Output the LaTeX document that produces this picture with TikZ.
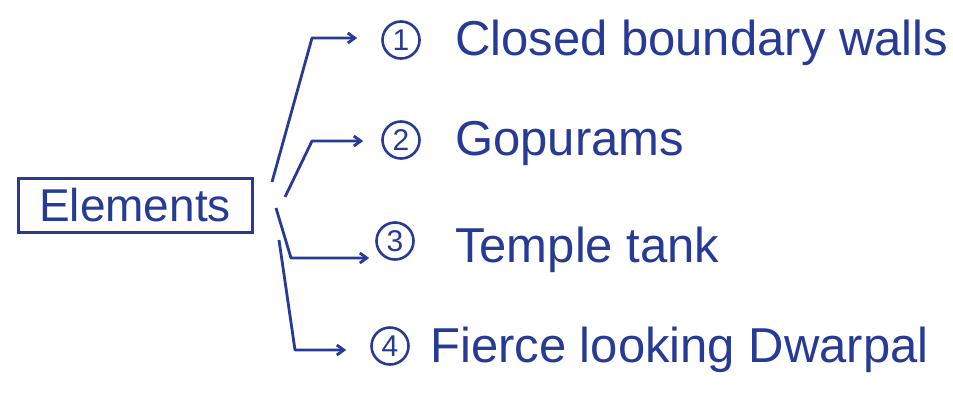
\documentclass[tikz,border=0pt]{standalone}
\usepackage{fontspec}
\setmainfont{Liberation Sans}
\usetikzlibrary{arrows.meta}

\definecolor{ink}{RGB}{38,58,150}

\begin{document}
\begin{tikzpicture}
  [x=1pt,y=-1pt,
   every node/.style={text=ink},
   num/.style={circle,draw=ink,line width=2.6pt,minimum size=37pt,inner sep=0pt,font=\fontsize{30}{30}\selectfont},
   item/.style={anchor=base west,inner sep=0pt,font=\fontsize{49}{50}\selectfont},
   link/.style={draw=ink,line width=2.8pt,line join=round,-{Straight Barb[length=7pt,width=10pt]}}]
  \useasboundingbox (0,0) rectangle (953,394);

  % main box
  \node[draw=ink,line width=3pt,minimum width=234pt,minimum height=54pt,
        font=\fontsize{46}{48}\selectfont] (elem) at (135,205) {Elements};

  % numbered items
  \node[num] (n1) at (401,40)  {1};
  \node[num] (n2) at (401,140) {2};
  \node[num] (n3) at (395,241) {3};
  \node[num] (n4) at (390,346) {4};

  \node[item] (t1) at (455,55)  {Closed boundary walls};
  \node[item] (t2) at (455,155) {Gopurams};
  \node[item] (t3) at (455,262) {Temple tank};
  \node[item] (t4) at (430,362) {Fierce looking Dwarpal};

  % branch points
  \coordinate (s1) at (272,182);
  \coordinate (s2) at (285,197);
  \coordinate (s3) at (276,208);
  \coordinate (s4) at (279,240);
  \coordinate (b1) at (312,38);
  \coordinate (b2) at (312,141);
  \coordinate (b3) at (291,258);
  \coordinate (b4) at (295,350);

  \foreach \s/\b/\n/\g in {s1/b1/n1/24pt,s2/b2/n2/18pt,s3/b3/n3/6pt,s4/b4/n4/24pt}
    \draw[link,shorten >=\g] (\s) -- (\b) -- (\b -| \n.west);
\end{tikzpicture}
\end{document}
